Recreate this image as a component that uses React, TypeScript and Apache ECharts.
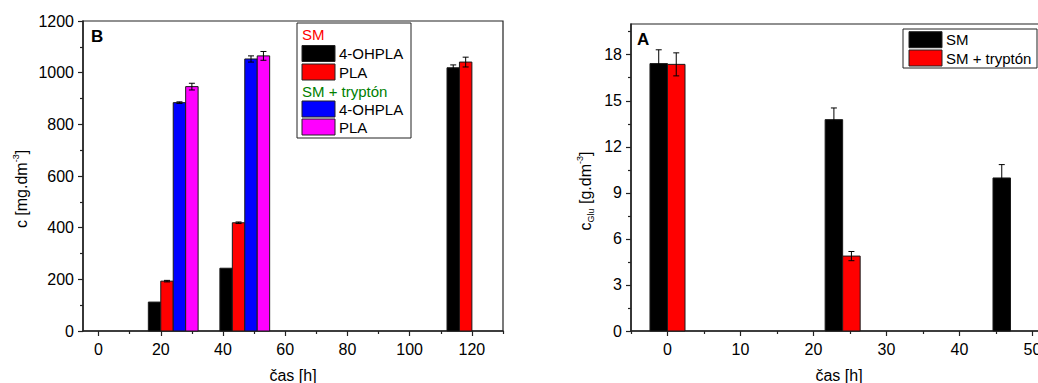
import React, { useEffect, useRef } from 'react';
import * as echarts from 'echarts';

// ---------- data ----------
const leftTimes = [24, 47, 120];
const smOhpla = [112, 243, 1019];
const smOhplaErr = [0, 0, 11];
const smPla = [193, 419, 1041];
const smPlaErr = [3, 3, 19];
const trOhpla = [884, 1053, null];
const trOhplaErr = [3, 12, null];
const trPla = [946, 1065, null];
const trPlaErr = [13, 17, null];

const rightTimes = [0, 24, 47];
const gluSM = [17.42, 13.77, 9.97];
const gluSMErr = [0.9, 0.76, 0.87];
const gluTr = [17.37, 4.88, null];
const gluTrErr = [0.75, 0.3, null];

const leftXTicks = [0, 20, 40, 60, 80, 100, 120];
const leftXMinor = [10, 30, 50, 70, 90, 110, 130];
const leftYTicks = [0, 200, 400, 600, 800, 1000, 1200];
const leftYMinor = [100, 300, 500, 700, 900, 1100];
const rightXTicks = [0, 10, 20, 30, 40, 50];
const rightXMinor = [-5, 5, 15, 25, 35, 45];
const rightYTicks = [0, 3, 6, 9, 12, 15, 18];
const rightYMinor = [1.5, 4.5, 7.5, 10.5, 13.5, 16.5, 19.5];

const FONT = 'Liberation Sans, Arial, sans-serif';

function build(times: number[], vals: (number | null)[], errs: (number | null)[], offset: number) {
  const out: number[][] = [];
  times.forEach((t, i) => {
    const v = vals[i];
    if (v !== null && v !== undefined) out.push([t + offset, v, (errs[i] as number) || 0]);
  });
  return out;
}

function barRenderer(width: number, color: string) {
  return (params: any, api: any) => {
    const x = api.value(0);
    const y = api.value(1);
    const e = api.value(2);
    const tl = api.coord([x - width / 2, y]);
    const br = api.coord([x + width / 2, 0]);
    const children: any[] = [
      {
        type: 'rect',
        shape: { x: tl[0], y: tl[1], width: br[0] - tl[0], height: br[1] - tl[1] },
        style: { fill: color, stroke: '#1a1a1a', lineWidth: 1 },
      },
    ];
    if (e > 0) {
      const cx = (tl[0] + br[0]) / 2;
      const top = api.coord([x, y + e])[1];
      const bot = api.coord([x, y - e])[1];
      const cap = 3;
      children.push(
        { type: 'line', shape: { x1: cx, y1: top, x2: cx, y2: bot }, style: { stroke: '#000', lineWidth: 1 } },
        { type: 'line', shape: { x1: cx - cap, y1: top, x2: cx + cap, y2: top }, style: { stroke: '#000', lineWidth: 1 } },
        { type: 'line', shape: { x1: cx - cap, y1: bot, x2: cx + cap, y2: bot }, style: { stroke: '#000', lineWidth: 1 } }
      );
    }
    return { type: 'group', children };
  };
}

const axisLineStyle = { color: '#222', width: 1.5 };
const labelStyle = { fontSize: 16, color: '#000', fontFamily: FONT };

function mainAxis(gridIndex: number, position: string, min: number, max: number, ticks: number[], margin: number, extra: any = {}) {
  return {
    type: 'value',
    gridIndex,
    position,
    min,
    max,
    axisLine: { show: true, onZero: false, lineStyle: axisLineStyle },
    axisTick: { show: true, inside: false, length: 5, customValues: ticks, lineStyle: { color: '#222', width: 1.2 } },
    axisLabel: { show: true, customValues: ticks, margin, formatter: (v: number) => String(v), ...labelStyle },
    splitLine: { show: false },
    ...extra,
  };
}

function minorAxis(gridIndex: number, position: string, min: number, max: number, ticks: number[]) {
  return {
    type: 'value',
    gridIndex,
    position,
    min,
    max,
    axisLine: { show: false, onZero: false },
    axisTick: { show: true, inside: false, length: 3, customValues: ticks, lineStyle: { color: '#222', width: 1.2 } },
    axisLabel: { show: false },
    splitLine: { show: false },
  };
}

function legendItem(x: number, y: number, color: string, label: string) {
  return [
    { type: 'rect', shape: { x, y, width: 33, height: 16 }, style: { fill: color, stroke: '#222', lineWidth: 1 } },
    {
      type: 'text',
      x: x + 37,
      y: y + 8,
      style: { text: label, fontSize: 15, fontFamily: FONT, fill: '#000', verticalAlign: 'middle', align: 'left' },
    },
  ];
}

const nameStyle = { fontSize: 16, color: '#000', fontFamily: FONT };

export default function App() {
  const ref = useRef<HTMLDivElement>(null);
  useEffect(() => {
    if (!ref.current) return;
    const chart = echarts.init(ref.current, undefined, { renderer: 'svg' });
    const option: any = {
      animation: false,
      backgroundColor: '#fff',
      grid: [
        { left: 83, top: 21, width: 420, height: 310, show: true, borderColor: '#222', borderWidth: 1.2, backgroundColor: 'transparent', outerBoundsMode: 'none', containLabel: false },
        { left: 631, top: 24, width: 416, height: 307, show: true, borderColor: '#222', borderWidth: 1.2, backgroundColor: 'transparent', outerBoundsMode: 'none', containLabel: false },
      ],
      xAxis: [
        mainAxis(0, 'bottom', -5, 130, leftXTicks, 10, { name: 'čas [h]', nameLocation: 'middle', nameGap: 36, nameTextStyle: nameStyle }),
        minorAxis(0, 'bottom', -5, 130, leftXMinor),
        mainAxis(1, 'bottom', -5, 52, rightXTicks, 10, { name: 'čas [h]', nameLocation: 'middle', nameGap: 36, nameTextStyle: nameStyle }),
        minorAxis(1, 'bottom', -5, 52, rightXMinor),
      ],
      yAxis: [
        mainAxis(0, 'left', 0, 1200, leftYTicks, 9),
        minorAxis(0, 'left', 0, 1200, leftYMinor),
        mainAxis(1, 'left', 0, 20, rightYTicks, 9),
        minorAxis(1, 'left', 0, 20, rightYMinor),
      ],
      series: [
        { type: 'custom', name: 'SM 4-OHPLA', xAxisIndex: 0, yAxisIndex: 0, encode: { x: 0, y: 1 }, data: build(leftTimes, smOhpla, smOhplaErr, -6), renderItem: barRenderer(4, '#000000') },
        { type: 'custom', name: 'SM PLA', xAxisIndex: 0, yAxisIndex: 0, encode: { x: 0, y: 1 }, data: build(leftTimes, smPla, smPlaErr, -2), renderItem: barRenderer(4, '#ff0000') },
        { type: 'custom', name: 'SM + tryptón 4-OHPLA', xAxisIndex: 0, yAxisIndex: 0, encode: { x: 0, y: 1 }, data: build(leftTimes, trOhpla, trOhplaErr, 2), renderItem: barRenderer(4, '#0000ff') },
        { type: 'custom', name: 'SM + tryptón PLA', xAxisIndex: 0, yAxisIndex: 0, encode: { x: 0, y: 1 }, data: build(leftTimes, trPla, trPlaErr, 6), renderItem: barRenderer(4, '#ff00ff') },
        { type: 'custom', name: 'SM', xAxisIndex: 2, yAxisIndex: 2, encode: { x: 0, y: 1 }, data: build(rightTimes, gluSM, gluSMErr, -1.2), renderItem: barRenderer(2.4, '#000000') },
        { type: 'custom', name: 'SM + tryptón', xAxisIndex: 2, yAxisIndex: 2, encode: { x: 0, y: 1 }, data: build(rightTimes, gluTr, gluTrErr, 1.2), renderItem: barRenderer(2.4, '#ff0000') },
      ],
      graphic: [
        // panel letters
        { type: 'text', x: 91, y: 36, style: { text: 'B', fontSize: 17, fontWeight: 'bold', fontFamily: FONT, fill: '#000', verticalAlign: 'middle' } },
        { type: 'text', x: 637, y: 39, style: { text: 'A', fontSize: 17, fontWeight: 'bold', fontFamily: FONT, fill: '#000', verticalAlign: 'middle' } },
        // y axis names
        {
          type: 'text',
          x: 21,
          y: 189,
          rotation: Math.PI / 2,
          style: {
            text: '{n|c [mg.dm}{sup|-3}{n|]}',
            align: 'center',
            verticalAlign: 'middle',
            rich: {
              n: { fontSize: 16, fontFamily: FONT, fill: '#000', lineHeight: 20 },
              sup: { fontSize: 9, fontFamily: FONT, fill: '#000', verticalAlign: 'top', lineHeight: 12 },
            },
          },
        },
        {
          type: 'text',
          x: 585,
          y: 191,
          rotation: Math.PI / 2,
          style: {
            text: '{n|c}{sub|Glu}{n| [g.dm}{sup|-3}{n|]}',
            align: 'center',
            verticalAlign: 'middle',
            rich: {
              n: { fontSize: 16, fontFamily: FONT, fill: '#000', lineHeight: 20 },
              sup: { fontSize: 9, fontFamily: FONT, fill: '#000', verticalAlign: 'top', lineHeight: 12 },
              sub: { fontSize: 9, fontFamily: FONT, fill: '#000', verticalAlign: 'bottom', lineHeight: 12 },
            },
          },
        },
        // left legend
        { type: 'rect', shape: { x: 297, y: 23, width: 114, height: 115 }, style: { fill: '#fff', stroke: '#222', lineWidth: 1 } },
        { type: 'text', x: 302, y: 34.5, style: { text: 'SM', fontSize: 15, fontFamily: FONT, fill: '#ff0000', verticalAlign: 'middle' } },
        ...legendItem(302, 45.5, '#000000', '4-OHPLA'),
        ...legendItem(302, 64, '#ff0000', 'PLA'),
        { type: 'text', x: 302, y: 91, style: { text: 'SM + tryptón', fontSize: 15, fontFamily: FONT, fill: '#008000', verticalAlign: 'middle' } },
        ...legendItem(302, 101, '#0000ff', '4-OHPLA'),
        ...legendItem(302, 119, '#ff00ff', 'PLA'),
        // right legend
        { type: 'rect', shape: { x: 903, y: 29, width: 134, height: 39 }, style: { fill: '#fff', stroke: '#222', lineWidth: 1 } },
        ...legendItem(909, 31.7, '#000000', 'SM'),
        ...legendItem(909, 50, '#ff0000', 'SM + tryptón'),
      ],
    };
    chart.setOption(option);
    return () => chart.dispose();
  }, []);
  return <div ref={ref} style={{ position: 'fixed', left: 0, top: 0, width: 1038, height: 383, overflow: 'hidden' }} />;
}
